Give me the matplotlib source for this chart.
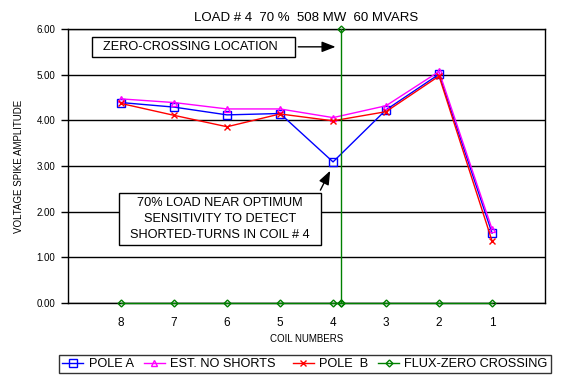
import numpy as np
import matplotlib
matplotlib.use('Agg')
import matplotlib.pyplot as plt

plt.rcParams['font.family'] = ['Liberation Sans', 'DejaVu Sans']

# data
coils = ['8', '7', '6', '5', '4', '3', '2', '1']
pole_a = [4.39, 4.29, 4.12, 4.15, 3.09, 4.23, 5.01, 1.53]
est_no_shorts = [4.47, 4.39, 4.25, 4.25, 4.06, 4.32, 5.07, 1.62]
pole_b = [4.37, 4.11, 3.86, 4.14, 3.99, 4.19, 4.97, 1.36]
zero_cross = 4.15          # position between coil 4 and coil 3
zero_cross_top = 6.0

x = np.arange(len(coils))

fig = plt.figure(figsize=(5.73, 3.87), dpi=100)
ax = fig.add_axes([0.1187, 0.217, 0.8325, 0.708])

ax.plot(x, pole_a, color='blue', lw=1, marker='s', ms=6, mfc='none', mec='blue', mew=1, label='POLE A')
ax.plot(x, est_no_shorts, color='magenta', lw=1, marker='^', ms=5, mfc='none', mec='magenta', mew=1,
        label='EST. NO SHORTS  ')
ax.plot(x, pole_b, color='red', lw=1, marker='x', ms=4, mec='red', mew=1, label='POLE  B')

flux_x = np.sort(np.append(x.astype(float), zero_cross))
flux_y = np.zeros(len(flux_x))
ax.plot(flux_x, flux_y, color='green', lw=1, marker='D', ms=3.5, mfc='none', mec='green', mew=1,
        label='FLUX-ZERO CROSSING', clip_on=False, zorder=3)
ax.plot([zero_cross, zero_cross], [0, zero_cross_top], color='green', lw=1, marker='D', ms=3.5,
        mfc='none', mec='green', mew=1, clip_on=False, zorder=3)

ax.set_xlim(-1, len(coils))
ax.set_ylim(0, 6)
ax.set_yticks(np.arange(0, 6.01, 1))
ax.set_yticklabels(['%.2f' % v for v in np.arange(0, 6.01, 1)], fontsize=7)
ax.set_xticks(x)
ax.set_xticklabels(coils, fontsize=8.5)
ax.tick_params(axis='x', length=0, pad=10)
ax.tick_params(axis='y', length=5, width=1, pad=4, direction='out')
ax.yaxis.grid(True, color='black', lw=1)
ax.set_axisbelow(True)
for s in ax.spines.values():
    s.set_linewidth(1)
    s.set_color('black')

ax.set_xlabel('COIL NUMBERS', fontsize=7, labelpad=4)
ax.set_ylabel('VOLTAGE SPIKE AMPLITUDE', fontsize=7, labelpad=9)
ax.set_title('LOAD # 4  70 %  508 MW  60 MVARS', fontsize=9.5, pad=6)

ax.annotate('  ZERO-CROSSING LOCATION    ', xy=(zero_cross - 0.05, 5.61), xytext=(-0.48, 5.61),
            fontsize=9.2, va='center', ha='left',
            bbox=dict(boxstyle='square,pad=0.3', fc='white', ec='black', lw=1),
            arrowprops=dict(arrowstyle='-|>,head_length=0.9,head_width=0.35', color='black', lw=1))

ax.annotate('  70% LOAD NEAR OPTIMUM  \n  SENSITIVITY TO DETECT  \n  SHORTED-TURNS IN COIL # 4  ',
            xy=(3.97, 2.95), xytext=(1.87, 1.84), fontsize=9.2, va='center', ha='center',
            linespacing=1.45,
            bbox=dict(boxstyle='square,pad=0.3', fc='white', ec='black', lw=1),
            arrowprops=dict(arrowstyle='-|>,head_length=0.9,head_width=0.35', color='black', lw=1,
                            relpos=(1, 1)))

leg = fig.legend(loc='center', bbox_to_anchor=(0.5325, 0.059), ncol=4, fontsize=9.2,
                 frameon=True, fancybox=False, edgecolor='black', handlelength=1.65,
                 handletextpad=0.4, columnspacing=0.8, borderpad=0.25, borderaxespad=0)
leg.get_frame().set_linewidth(1)

fig.savefig('out.png', dpi=100)
